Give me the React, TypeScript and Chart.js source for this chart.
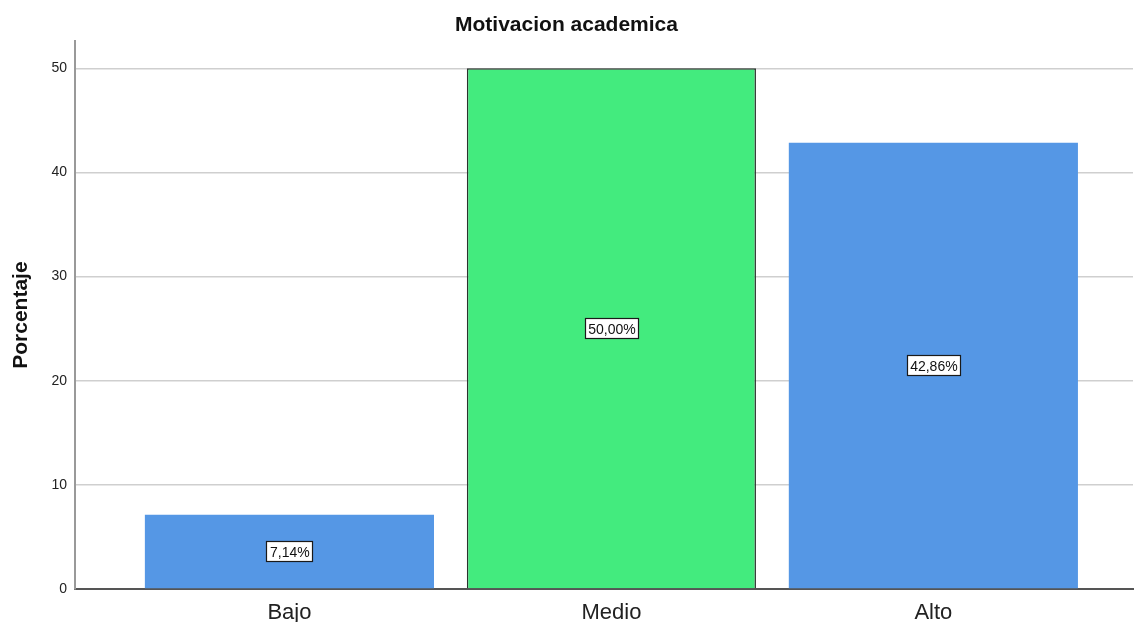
import React, { useEffect, useRef } from "react";
import { Chart, registerables } from "chart.js";

Chart.register(...registerables);

const categories = ["Bajo", "Medio", "Alto"];
const percentages = [7.14, 50.0, 42.86];
const valueLabels = ["7,14%", "50,00%", "42,86%"];
const yTicks = [0, 10, 20, 30, 40, 50];
const barColors = ["#5597E5", "#43EB7E", "#5597E5"];
const barBorders = ["#5597E5", "#2b332e", "#5597E5"];
const barBorderWidths = [0, 1.5, 0];

const FONT = "'Liberation Sans', Arial, sans-serif";

const labelPlugin = {
  id: "valueBoxes",
  afterDatasetsDraw(chart: any) {
    const ctx = chart.ctx;
    const meta = chart.getDatasetMeta(0);
    ctx.save();
    ctx.font = `14px ${FONT}`;
    ctx.textAlign = "center";
    ctx.textBaseline = "middle";
    meta.data.forEach((bar: any, i: number) => {
      const text = valueLabels[i];
      const cx = bar.x;
      const cy = (bar.y + bar.base) / 2;
      const w = Math.round(ctx.measureText(text).width + 6);
      const h = 20;
      const x0 = Math.round(cx - w / 2);
      const y0 = Math.round(cy - h / 2);
      ctx.fillStyle = "#ffffff";
      ctx.fillRect(x0, y0, w, h);
      ctx.strokeStyle = "#1a1a1a";
      ctx.lineWidth = 1.2;
      ctx.strokeRect(x0 + 0.5, y0 + 0.5, w, h);
      ctx.fillStyle = "#111111";
      ctx.fillText(text, cx + 0.5, cy + 1.5);
    });
    ctx.restore();
  },
};

export default function App() {
  const ref = useRef<HTMLCanvasElement | null>(null);
  useEffect(() => {
    document.body.style.margin = "0";
    const canvas = ref.current!;
    const chart = new Chart(canvas, {
      type: "bar",
      data: {
        datasets: [
          {
            data: percentages.map((v, i) => ({ x: i, y: v })),
            backgroundColor: barColors,
            borderColor: barBorders,
            borderWidth: barBorderWidths,
            barPercentage: 0.898,
            categoryPercentage: 1,
          },
        ],
      },
      options: {
        animation: false,
        responsive: false,
        devicePixelRatio: 1,
        layout: { padding: { left: 0, right: 1, top: 0, bottom: 0 } },
        plugins: {
          legend: { display: false },
          tooltip: { enabled: false },
          title: {
            display: true,
            text: "Motivacion academica",
            color: "#111111",
            font: { family: FONT, size: 21, weight: "bold" },
            padding: { top: 13, bottom: 3 },
          },
        },
        scales: {
          x: {
            type: "linear",
            offset: false,
            min: -0.666,
            max: 2.62,
            afterBuildTicks: (scale: any) => {
              scale.ticks = categories.map((_, i) => ({ value: i }));
            },
            afterFit: (scale: any) => {
              scale.height = 33;
            },
            ticks: {
              autoSkip: false,
              maxRotation: 0,
              color: "#222222",
              font: { family: FONT, size: 22 },
              padding: 3,
              callback: (v: any) => categories[v as number] ?? "",
            },
            grid: { display: false },
            border: { display: true, color: "#555555", width: 2 },
          },
          y: {
            min: 0,
            max: 52.6,
            afterBuildTicks: (scale: any) => {
              scale.ticks = yTicks.map((v) => ({ value: v }));
            },
            afterFit: (scale: any) => {
              scale.width = 75;
            },
            ticks: {
              color: "#222222",
              font: { family: FONT, size: 14 },
              padding: 8,
            },
            grid: { color: "#cfcfcf", lineWidth: 1.5, drawTicks: false },
            border: { display: true, color: "#999999", width: 2 },
            title: {
              display: true,
              text: "Porcentaje",
              color: "#111111",
              font: { family: FONT, size: 21, weight: "bold" },
              padding: { top: 9, bottom: 0 },
            },
          },
        },
      },
      plugins: [labelPlugin],
    } as any);
    return () => chart.destroy();
  }, []);
  return (
    <div style={{ width: 1134, height: 622, background: "#ffffff" }}>
      <canvas ref={ref} width={1134} height={622} style={{ display: "block" }} />
    </div>
  );
}
